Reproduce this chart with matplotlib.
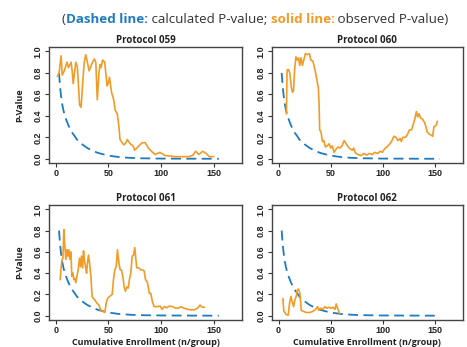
import matplotlib
matplotlib.use('Agg')
import matplotlib.pyplot as plt

# calculated (expected) P-value curve, shared by all protocols
calc_x = [3, 4, 5, 6, 7, 8, 9, 10, 12, 15, 18, 20, 25, 30, 35, 40, 45, 50, 60, 70, 80, 100, 125, 155]
calc_y = [0.80, 0.67, 0.58, 0.51, 0.46, 0.42, 0.39, 0.36, 0.31, 0.25, 0.21, 0.18, 0.135, 0.10,
          0.075, 0.055, 0.042, 0.03, 0.016, 0.009, 0.005, 0.002, 0.001, 0.0]

# observed P-values
p059_x = [1.6, 3, 5, 6, 8, 10.6, 12, 14.5, 15.5, 16.5, 19, 20.5, 22.6, 24, 25.5, 27, 28.4, 30, 31.6,
          34, 36.5, 38, 39.4, 41, 42, 43, 44.5, 46.5, 48.7, 49.7, 51, 53, 55, 56.5, 58.4, 60, 61,
          64.5, 66, 68, 70.6, 73.5, 75, 79, 82, 85, 88, 92, 94.5, 99, 104, 114, 126, 130, 133,
          136, 139.7, 143, 146, 150]
p059_y = [0.77, 0.80, 0.96, 0.78, 0.82, 0.90, 0.85, 0.90, 0.82, 0.70, 0.90, 0.85, 0.50, 0.48, 0.70,
          0.90, 0.97, 0.90, 0.82, 0.88, 0.93, 0.90, 0.55, 0.80, 0.88, 0.85, 0.92, 0.90, 0.68, 0.70,
          0.76, 0.62, 0.55, 0.45, 0.42, 0.30, 0.18, 0.13, 0.14, 0.18, 0.14, 0.12, 0.08, 0.12, 0.15,
          0.15, 0.10, 0.06, 0.04, 0.06, 0.03, 0.02, 0.02, 0.03, 0.07, 0.04, 0.07, 0.05, 0.02, 0.02]

p060_x = [7.5, 8.2, 9.5, 10.8, 12.4, 13.4, 14.4, 15.4, 16.7, 18, 19.3, 20.3, 21.6, 22.9, 24.2, 25.8,
          27.8, 29.7, 31, 33, 35, 36.9, 38.2, 38.9, 39.5, 40.8, 42.2, 43.5, 45, 46.7, 48.7, 50, 51.6,
          53.3, 55.2, 57.2, 59, 61, 63, 65, 67, 69, 71, 72.2, 73.5, 76, 79.4, 82, 84.6, 87.3, 90,
          92.5, 95, 97.7, 99.7, 101.6, 104, 107, 109, 110.8, 112.7, 114.7, 116.7, 118, 119.3, 122,
          124, 125.8, 127.8, 129.7, 131, 132.4, 133.7, 135, 136.3, 138.2, 140.2, 141.5, 142.8,
          144.8, 146.7, 148, 149.3, 151.3, 152.6]
p060_y = [0.42, 0.83, 0.83, 0.80, 0.66, 0.62, 0.64, 0.83, 0.95, 0.92, 0.94, 0.87, 0.94, 0.87, 0.92,
          0.98, 0.97, 0.98, 0.92, 0.91, 0.83, 0.73, 0.66, 0.52, 0.27, 0.25, 0.16, 0.17, 0.11, 0.12,
          0.14, 0.10, 0.12, 0.06, 0.09, 0.11, 0.10, 0.12, 0.17, 0.14, 0.11, 0.09, 0.08, 0.10, 0.06,
          0.04, 0.03, 0.05, 0.035, 0.05, 0.04, 0.06, 0.05, 0.07, 0.06, 0.09, 0.11, 0.14, 0.17, 0.21,
          0.20, 0.17, 0.19, 0.16, 0.20, 0.20, 0.23, 0.27, 0.27, 0.33, 0.375, 0.44, 0.39, 0.42, 0.38,
          0.37, 0.34, 0.30, 0.25, 0.23, 0.22, 0.21, 0.30, 0.31, 0.35]

p061_x = [4.1, 4.8, 5.7, 6.7, 7.6, 8.6, 9.5, 10.5, 11.4, 12.4, 13.3, 14.3, 15.2, 16.2, 17.1, 18, 19,
          20, 21.2, 22.5, 23.5, 24.4, 25.4, 26.3, 27.3, 28.2, 29.2, 30.1, 31, 32, 33.3, 34.5, 35.8,
          37, 38.9, 40.9, 42.8, 44.7, 46.6, 47.9, 49.1, 51, 53.6, 54.8, 56.1, 57.4, 58.6, 59.9, 61.2,
          62.4, 63.7, 65, 66.2, 67.5, 68.8, 70, 71.3, 72.6, 73.9, 75.1, 76, 77, 78.9, 80.8, 82.7, 84,
          85.3, 87.2, 89, 90.3, 91.9, 93.5, 96.7, 99.2, 101, 103, 105.5, 108, 111, 113.8, 116.3,
          118.9, 122, 125.2, 128.4, 131.5, 134.7, 137.2, 139.1, 141]
p061_y = [0.34, 0.43, 0.52, 0.54, 0.81, 0.65, 0.53, 0.62, 0.56, 0.62, 0.53, 0.60, 0.37, 0.40, 0.34,
          0.35, 0.31, 0.37, 0.43, 0.54, 0.46, 0.56, 0.45, 0.61, 0.51, 0.46, 0.40, 0.50, 0.57, 0.50,
          0.37, 0.18, 0.16, 0.15, 0.12, 0.10, 0.05, 0.04, 0.03, 0.12, 0.16, 0.18, 0.20, 0.34, 0.43,
          0.46, 0.62, 0.50, 0.43, 0.43, 0.37, 0.27, 0.23, 0.27, 0.26, 0.34, 0.40, 0.56, 0.57, 0.64,
          0.54, 0.45, 0.45, 0.43, 0.43, 0.42, 0.34, 0.31, 0.21, 0.21, 0.13, 0.085, 0.085, 0.09, 0.06,
          0.085, 0.075, 0.09, 0.085, 0.07, 0.07, 0.085, 0.07, 0.06, 0.055, 0.055, 0.07, 0.10, 0.08,
          0.08]

p062_x = [4.2, 5.1, 6.1, 7.4, 9.3, 10.6, 11.9, 13.1, 14.4, 15.7, 17, 17.9, 19.2, 20.5, 21.8, 24,
          26.6, 29.8, 33, 35.6, 37.5, 38.8, 40.7, 42.6, 44.6, 46.5, 48.4, 50.3, 52.2, 54.2, 55.4,
          56.7, 58.7]
p062_y = [0.16, 0.04, 0.03, 0.01, 0.005, 0.12, 0.18, 0.13, 0.085, 0.15, 0.18, 0.24, 0.25, 0.21,
          0.05, 0.04, 0.03, 0.03, 0.04, 0.06, 0.085, 0.05, 0.07, 0.06, 0.085, 0.07, 0.08, 0.07, 0.08,
          0.06, 0.11, 0.07, 0.02]

titles = ['Protocol 059', 'Protocol 060', 'Protocol 061', 'Protocol 062']
observed = [(p059_x, p059_y), (p060_x, p060_y), (p061_x, p061_y), (p062_x, p062_y)]

orange = '#F29B26'
blue = '#1F7BBF'
dark = '#333333'

fig = plt.figure(figsize=(4.67, 3.47), dpi=100)

# axes boxes [left, bottom, width, height] in figure fractions
boxes = [[0.105, 0.530, 0.413, 0.334],
         [0.582, 0.530, 0.409, 0.334],
         [0.105, 0.078, 0.413, 0.331],
         [0.582, 0.078, 0.409, 0.331]]

for i, (box, title, (ox, oy)) in enumerate(zip(boxes, titles, observed)):
    ax = fig.add_axes(box)
    ax.plot(calc_x, calc_y, color=blue, lw=1.3, dashes=(5.5, 3))
    ax.plot(ox, oy, color=orange, lw=1.2)
    ax.set_xlim(-6.5, 177)
    ax.set_ylim(-0.04, 1.04)
    ax.set_xticks([0, 50, 100, 150])
    ax.set_yticks([0.0, 0.2, 0.4, 0.6, 0.8, 1.0])
    ax.set_yticklabels(['0.0', '0.2', '0.4', '0.6', '0.8', '1.0'], rotation=90, va='center')
    for lab in ax.get_xticklabels() + ax.get_yticklabels():
        lab.set_fontweight('bold')
        lab.set_fontfamily('Liberation Sans')
        lab.set_fontsize(6.5)
        lab.set_color('#222222')
    ax.tick_params(length=3, width=0.8, pad=1.5, color=dark)
    for sp in ax.spines.values():
        sp.set_linewidth(1.0)
        sp.set_color('#444444')
    ax.set_title(title, fontsize=7, fontweight='bold', family='Open Sans', pad=3, color='#222222')
    if i % 2 == 0:
        ax.set_ylabel('P-Value', fontsize=6.5, fontweight='bold', family='Open Sans', labelpad=7,
                      color='#222222')
    if i >= 2:
        ax.set_xlabel('Cumulative Enrollment (n/group)', fontsize=6.5, fontweight='bold',
                      family='Open Sans', labelpad=2, color='#222222')

# header line made of coloured pieces placed side by side
parts = [('(', dark, 'normal'),
         ('Dashed line:', blue, 'bold'),
         (' calculated P-value; ', dark, 'normal'),
         ('solid line:', orange, 'bold'),
         (' observed P-value)', dark, 'normal')]
renderer = fig.canvas.get_renderer()
fw = fig.get_figwidth() * fig.dpi
x = 62 / fw
for txt, col, wt in parts:
    t = fig.text(x, 1 - 23 / 347, txt, color=col, fontweight=wt, fontsize=9.6,
                 family='Open Sans', va='baseline', ha='left')
    x += t.get_window_extent(renderer).width / fw

plt.savefig('out.png', dpi=100)
